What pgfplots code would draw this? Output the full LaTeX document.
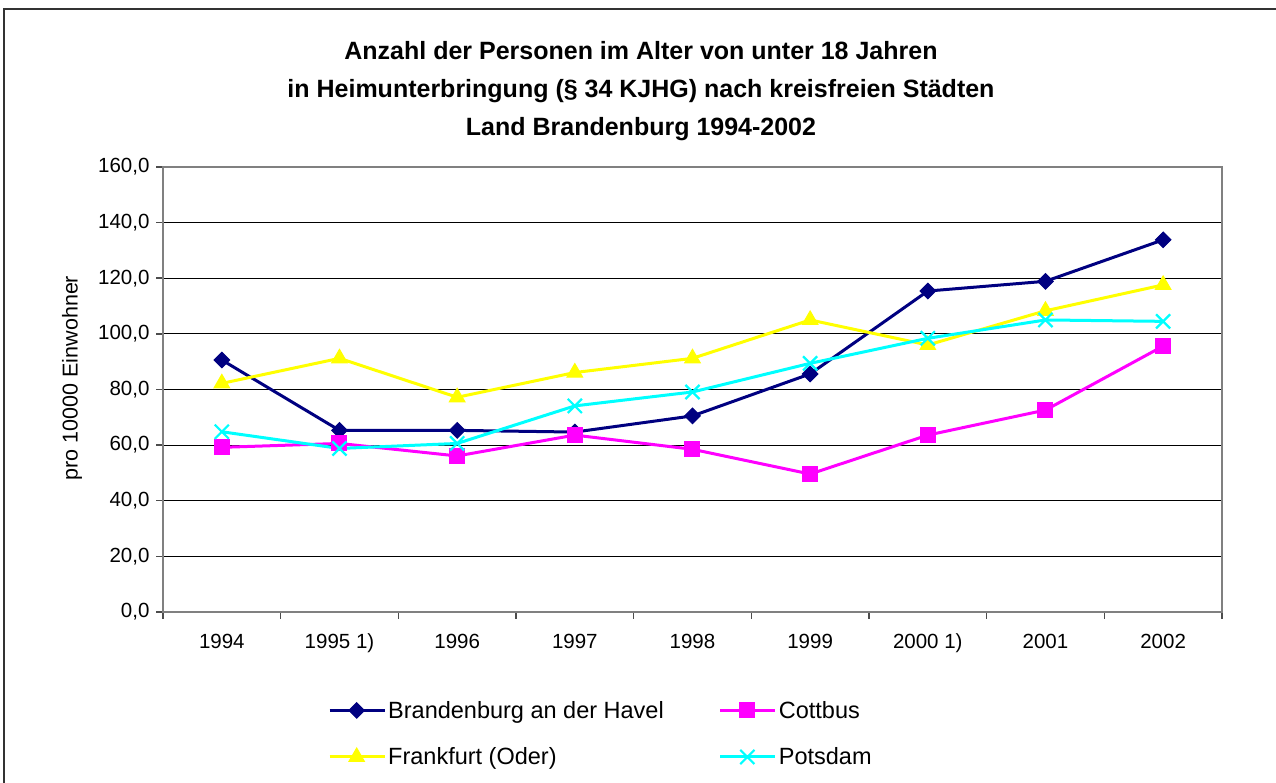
\documentclass[border=0pt]{standalone}
\usepackage{fontspec}
\setmainfont{Liberation Sans}
\usepackage{pgfplots}
\pgfplotsset{compat=1.18}
\definecolor{cBrand}{RGB}{0,0,128}
\definecolor{cCott}{RGB}{255,0,255}
\definecolor{cFrank}{RGB}{255,255,0}
\definecolor{cPots}{RGB}{0,255,255}
\definecolor{axgray}{RGB}{128,128,128}
\begin{document}
\begin{tikzpicture}[x=1pt,y=1pt]
\useasboundingbox (0,0) rectangle (1276,783);
\draw[line width=2pt, color=black!80] (4,0) -- (4,774) -- (1276,774);
\node[align=center, font=\fontsize{25}{38}\selectfont\bfseries] at (641,692)
  {Anzahl der Personen im Alter von unter 18 Jahren\\in Heimunterbringung (§ 34 KJHG) nach kreisfreien Städten\\Land Brandenburg 1994-2002};
\node[rotate=90, font=\fontsize{21.5}{24}\selectfont] at (72,405) {pro 10000 Einwohner};
\begin{axis}[
  at={(163pt,171pt)}, anchor=south west,
  scale only axis, width=1059pt, height=445pt,
  xmin=-0.5, xmax=8.5, ymin=0, ymax=160,
  xtick={0,...,8},
  xticklabels={1994,1995 1),1996,1997,1998,1999,2000 1),2001,2002},
  minor xtick={-0.5,0.5,...,8.5},
  major x tick style={draw=none},
  ytick={0,20,...,160},
  xtick pos=bottom, ytick pos=left,
  tick align=outside,
  major tick length=7pt, minor tick length=7pt,
  tick style={color=black!70, line width=1.5pt},
  every tick label/.append style={font=\fontsize{20.5}{24}\selectfont},
  yticklabel style={xshift=-3pt, /pgf/number format/.cd, fixed, fixed zerofill, precision=1, use comma, assume math mode=true},
  xticklabel style={yshift=-11pt, text height=15pt, text depth=4pt},
  axis line style={color=axgray, line width=2pt},
  ymajorgrids, grid style={black, line width=1.2pt},
  clip=false,
  legend columns=2,
  legend style={at={(0.1558,-0.1955)}, anchor=north west, draw=none, fill=none,
    inner sep=0pt, font=\fontsize{23.5}{27}\selectfont, row sep=24pt,
    /tikz/every even column/.append style={column sep=53pt}},
  legend cell align=left,
  legend image code/.code={\draw[mark repeat=2,mark phase=2,#1] plot coordinates {(0pt,0pt) (27pt,0pt) (55pt,0pt)};},
  every axis plot/.append style={line width=3pt},
]
\addplot[color=cBrand, mark=square*, mark size=5.5pt, mark options={solid, rotate=45, line width=1pt}] coordinates {
(0,90.6) (1,65.3) (2,65.3) (3,64.7) (4,70.5) (5,85.6) (6,115.4) (7,118.9) (8,133.8)};
\addlegendentry{Brandenburg an der Havel}
\addplot[color=cCott, mark=square*, mark size=7.5pt, mark options={solid, line width=1pt}] coordinates {
(0,59.2) (1,60.6) (2,56.1) (3,63.6) (4,58.5) (5,49.6) (6,63.6) (7,72.6) (8,95.6)};
\addlegendentry{Cottbus}
\addplot[color=cFrank, mark=triangle*, mark size=9pt, mark options={solid, line width=1pt}] coordinates {
(0,82.2) (1,91.2) (2,77.2) (3,86.1) (4,91.2) (5,105.0) (6,96.0) (7,108.3) (8,117.6)};
\addlegendentry{Frankfurt (Oder)}
\addplot[color=cPots, mark=x, mark size=10pt, mark options={solid, line width=2.2pt}] coordinates {
(0,64.8) (1,58.8) (2,60.6) (3,74.1) (4,79.1) (5,89.4) (6,98.4) (7,105.0) (8,104.5)};
\addlegendentry{Potsdam}
\end{axis}
\end{tikzpicture}
\end{document}
